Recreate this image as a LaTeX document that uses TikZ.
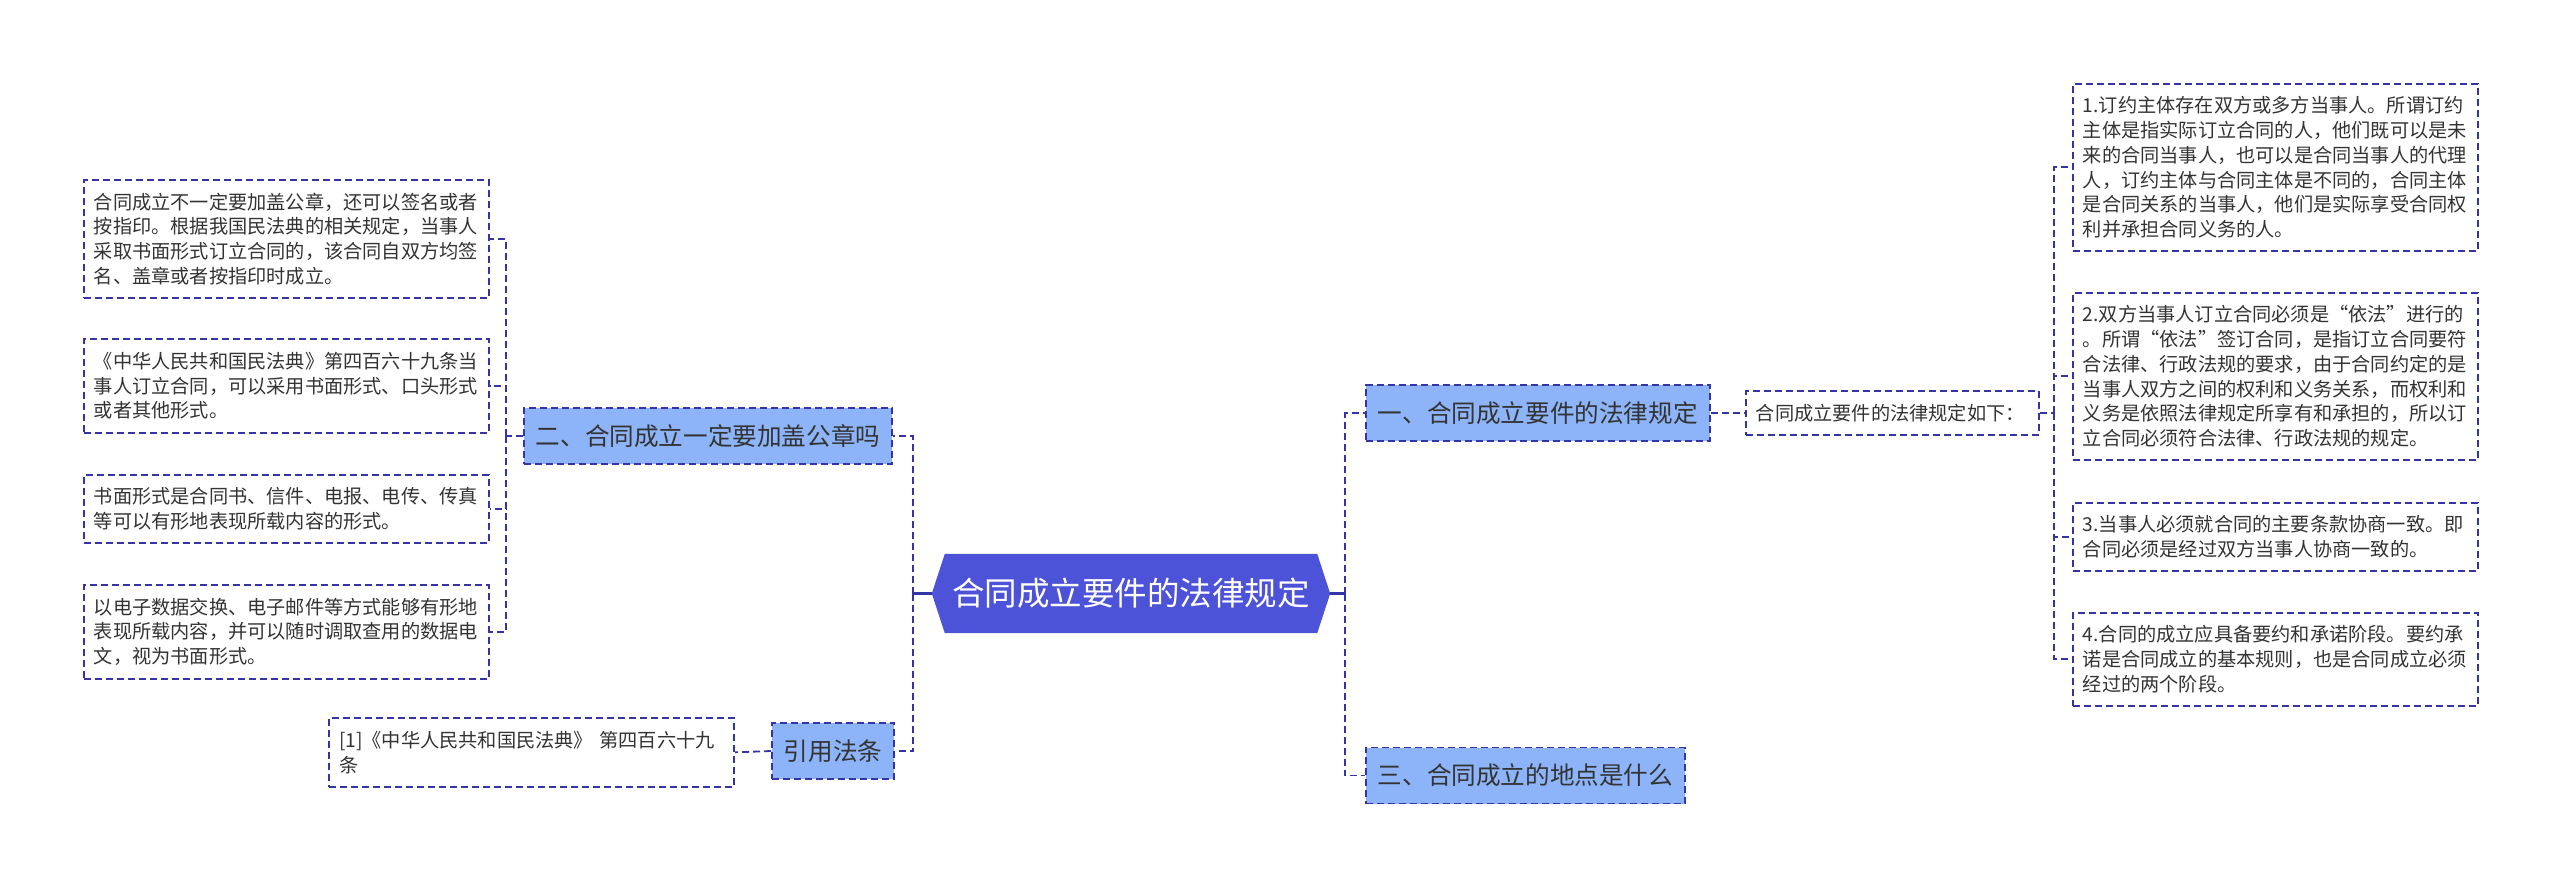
\documentclass[tikz,border=0pt]{standalone}
\usepackage{fontspec}
\setmainfont{Noto Sans CJK SC}
\definecolor{linec}{HTML}{3434A8}
\definecolor{rootc}{HTML}{4D53D8}
\definecolor{branchc}{HTML}{8DB4F8}
\definecolor{txt}{HTML}{333333}
\tikzset{
  conn/.style={draw=linec, line width=1.8pt, dash pattern=on 7pt off 4pt},
  rootstub/.style={draw=linec, line width=2.2pt},
  leaf/.style={draw=linec, line width=1.7pt, dash pattern=on 7pt off 4pt, fill=white,
    text width=385pt, align=left, inner xsep=10pt, inner ysep=4pt, anchor=north west,
    text=txt, font=\fontsize{19.2}{24.8}\selectfont},
  branch/.style={draw=linec, line width=1.8pt, dash pattern=on 7pt off 4pt, fill=branchc,
    inner xsep=12pt, inner ysep=0pt, minimum height=56pt, anchor=west, text=txt,
    font=\fontsize{24.6}{28}\selectfont},
  rootnode/.style={minimum width=398pt, minimum height=79pt, inner sep=0pt, text=white,
    font=\fontsize{32.5}{36}\selectfont}
}
\begin{document}
\begin{tikzpicture}[x=1pt,y=-1pt]
\useasboundingbox (0,0) rectangle (2560,887);
% root
\node[rootnode] (root) at (1131,593.5) {};
\fill[rootc] (root.west) -- ([xshift=13pt]root.north west) -- ([xshift=-13pt]root.north east)
  -- (root.east) -- ([xshift=-13pt]root.south east) -- ([xshift=13pt]root.south west) -- cycle;
\node[rootnode] at (root.center) {合同成立要件的法律规定};

% branches
\node[branch] (bL) at (523,436) {二、合同成立一定要加盖公章吗};
\node[branch] (bC) at (771,751) {引用法条};
\node[branch] (bR1) at (1365,413) {一、合同成立要件的法律规定};
\node[branch] (bR3) at (1365,775.5) {三、合同成立的地点是什么};

% left leaves
\node[leaf, minimum height=118pt] (L1) at (83,179) {合同成立不一定要加盖公章，还可以签名或者\\按指印。根据我国民法典的相关规定，当事人\\采取书面形式订立合同的，该合同自双方均签\\名、盖章或者按指印时成立。};
\node[leaf, minimum height=94pt] (L2) at (83,338) {《中华人民共和国民法典》第四百六十九条当\\事人订立合同，可以采用书面形式、口头形式\\或者其他形式。};
\node[leaf, minimum height=68pt] (L3) at (83,474) {书面形式是合同书、信件、电报、电传、传真\\等可以有形地表现所载内容的形式。};
\node[leaf, minimum height=94pt] (L4) at (83,584) {以电子数据交换、电子邮件等方式能够有形地\\表现所载内容，并可以随时调取查用的数据电\\文，视为书面形式。};
\node[leaf, minimum height=69pt, anchor=north east] (cite) at (735,717) {[1]《中华人民共和国民法典》 第四百六十九\\条};

% right
\node[leaf, text width=273pt, minimum height=44pt, anchor=west] (mid) at (1745,413) {合同成立要件的法律规定如下：};
\node[leaf, minimum height=167pt] (R1) at (2072,83) {1.订约主体存在双方或多方当事人。所谓订约\\主体是指实际订立合同的人，他们既可以是未\\来的合同当事人，也可以是合同当事人的代理\\人，订约主体与合同主体是不同的，合同主体\\是合同关系的当事人，他们是实际享受合同权\\利并承担合同义务的人。};
\node[leaf, minimum height=167pt] (R2) at (2072,292) {2.双方当事人订立合同必须是“依法”进行的\\。所谓“依法”签订合同，是指订立合同要符\\合法律、行政法规的要求，由于合同约定的是\\当事人双方之间的权利和义务关系，而权利和\\义务是依照法律规定所享有和承担的，所以订\\立合同必须符合法律、行政法规的规定。};
\node[leaf, minimum height=68pt] (R3) at (2072,502) {3.当事人必须就合同的主要条款协商一致。即\\合同必须是经过双方当事人协商一致的。};
\node[leaf, minimum height=93pt] (R4) at (2072,612) {4.合同的成立应具备要约和承诺阶段。要约承\\诺是合同成立的基本规则，也是合同成立必须\\经过的两个阶段。};

% spine coordinates
\coordinate (spRoL) at (913,593.5);
\coordinate (spRoR) at (1345,593.5);
\coordinate (spL) at (506,436);
\coordinate (spR) at (2054,413);

% connectors root
\draw[rootstub] (root.west) -- (spRoL);
\draw[rootstub] (root.east) -- (spRoR);
\draw[rootstub] ([yshift=-6pt]spRoL) -- ([yshift=6pt]spRoL);
\draw[rootstub] ([yshift=-6pt]spRoR) -- ([yshift=6pt]spRoR);
\draw[conn] (spRoL) |- (bL.east);
\draw[conn] (spRoL) |- (bC.east);
\draw[conn] (spRoR) |- (bR1.west);
\draw[conn] (spRoR) |- (bR3.west);

% left leaves
\draw[conn] (bL.west) -- (spL);
\draw[conn] (spL) |- (L1.east);
\draw[conn] (spL) |- (L2.east);
\draw[conn] (spL) |- (L3.east);
\draw[conn] (spL) |- (L4.east);
\draw[conn] (bC.west) -- (cite.east);

% right leaves
\draw[conn] (bR1.east) -- (mid.west);
\draw[conn] (mid.east) -- (spR);
\draw[conn] (spR) |- (R1.west);
\draw[conn] (spR) |- (R2.west);
\draw[conn] (spR) |- (R3.west);
\draw[conn] (spR) |- (R4.west);
\end{tikzpicture}
\end{document}
